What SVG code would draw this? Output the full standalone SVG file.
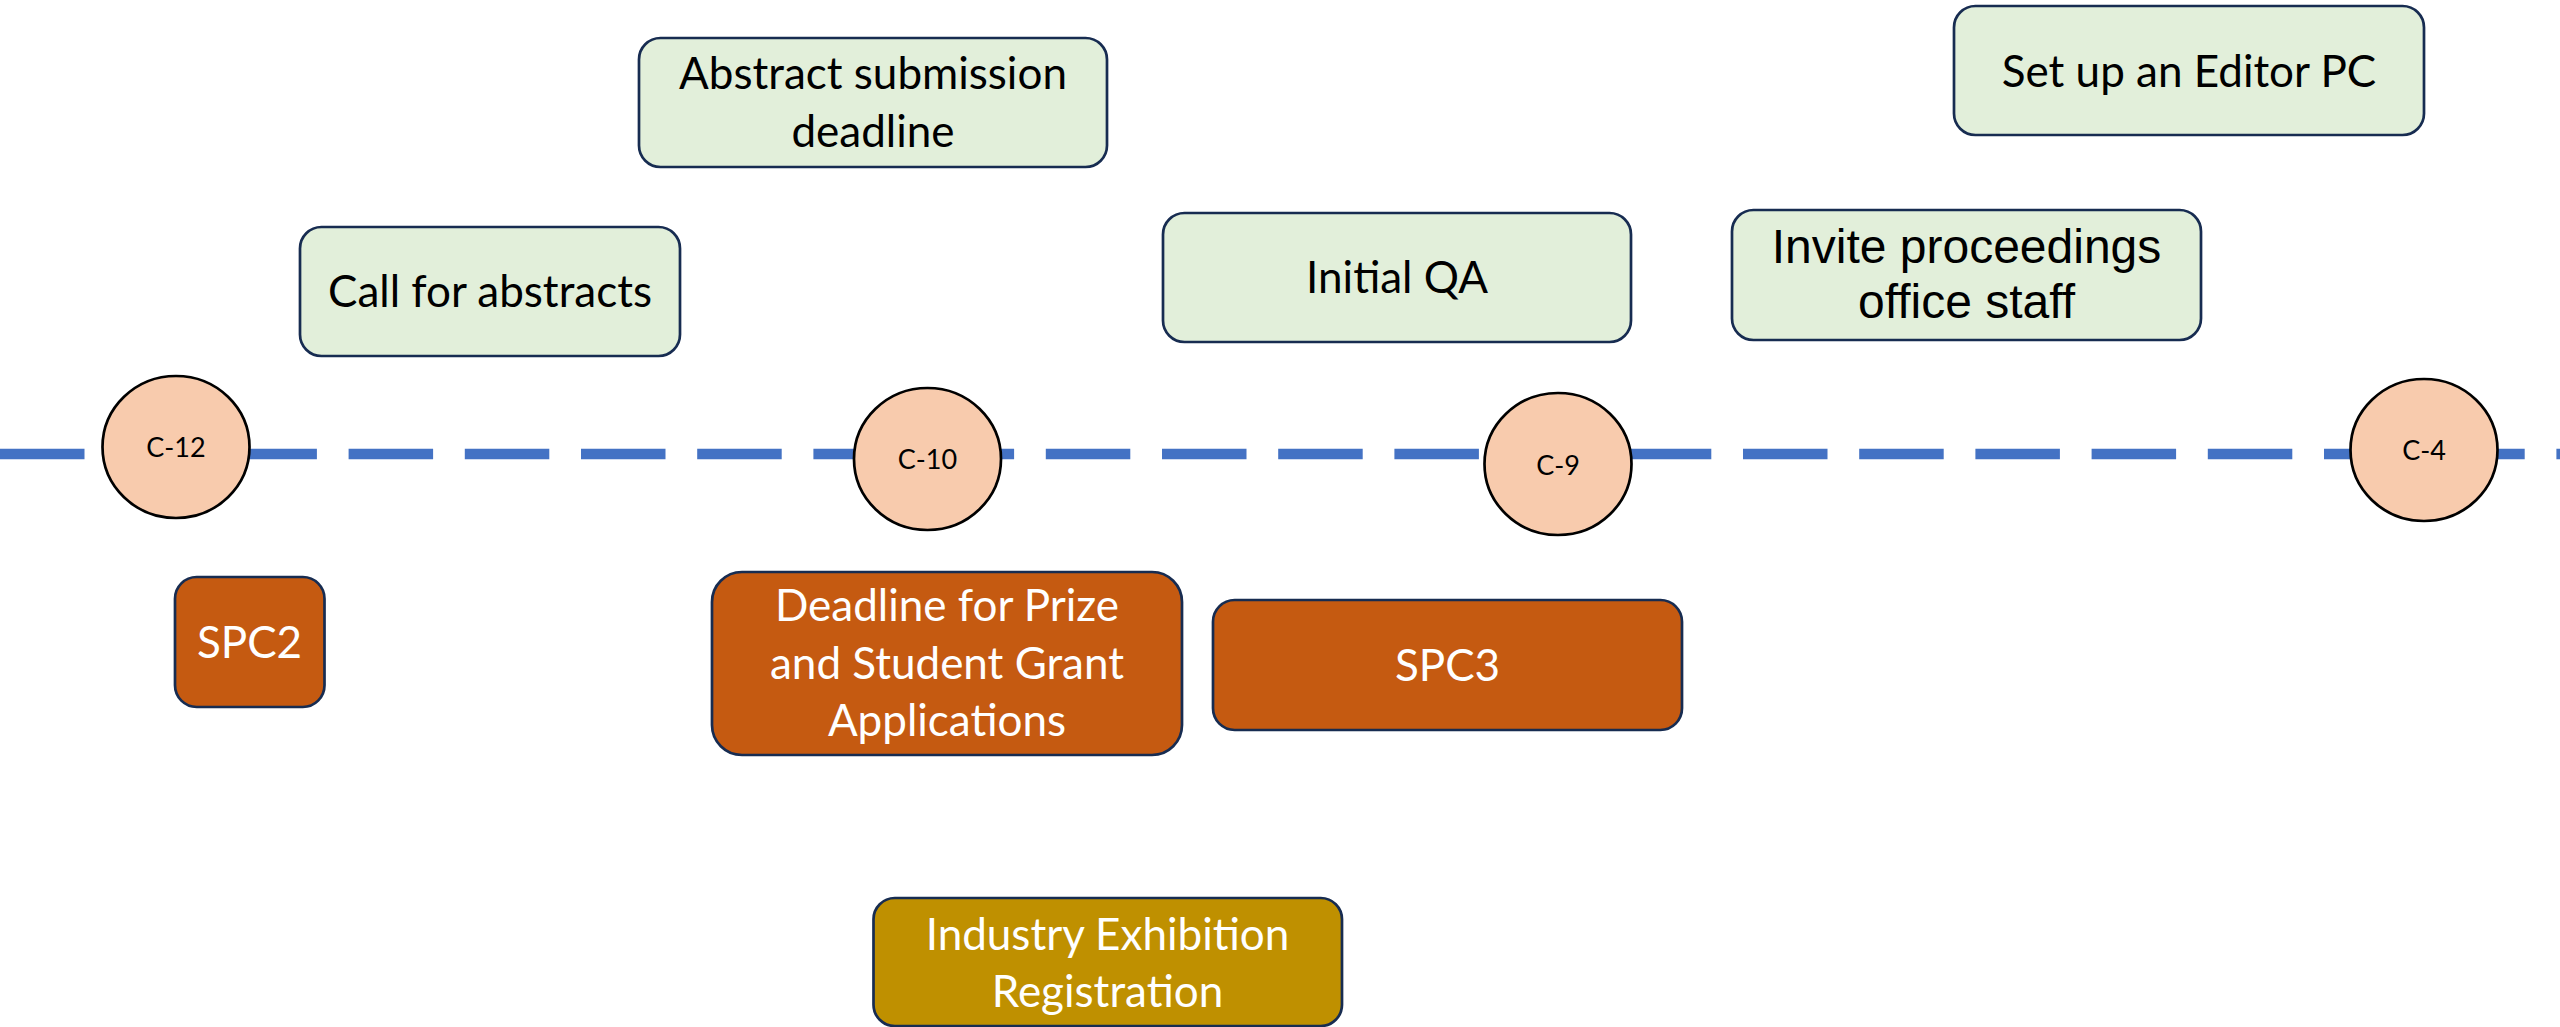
<svg xmlns="http://www.w3.org/2000/svg" width="2560" height="1027" viewBox="0 0 2560 1027">
<style>
.box{stroke:#172C51;stroke-width:2.7}
.g{fill:#E2EFDA}
.o{fill:#C55A11}
.y{fill:#BF9000}
.c{fill:#F8CBAD;stroke:#000;stroke-width:2.7}
.t{font-family:Lato,"Liberation Sans",sans-serif;font-size:44px;text-anchor:middle;fill:#000}
.a{font-family:"Liberation Sans",Arial,sans-serif;font-size:48px;text-anchor:middle;fill:#000}
.w{fill:#fff}
.s{font-family:Lato,"Liberation Sans",sans-serif;font-size:27px;text-anchor:middle;fill:#000}
</style>
<rect width="2560" height="1027" fill="#fff"/>
<g id="connectors">
<line x1="0" y1="454" x2="2560" y2="454" stroke="#4472C4" stroke-width="10.5" stroke-dasharray="84.5 31.7"/>
</g>
<g id="c12"><ellipse class="c" cx="176" cy="447" rx="73.5" ry="71"/><text class="s" x="176" y="457">C-12</text></g>
<g id="c10"><ellipse class="c" cx="927.5" cy="459" rx="73.5" ry="71"/><text class="s" x="927.5" y="469">C-10</text></g>
<g id="c9"><ellipse class="c" cx="1558" cy="464" rx="73.5" ry="71"/><text class="s" x="1558" y="475">C-9</text></g>
<g id="c4"><ellipse class="c" cx="2424" cy="450" rx="73.5" ry="71"/><text class="s" x="2424" y="460">C-4</text></g>
<g id="abstract-deadline"><rect class="box g" x="639" y="38" width="468" height="129" rx="21.5"/><text class="t" x="873" y="89">Abstract submission</text><text class="t" x="873" y="147">deadline</text></g>
<g id="call-abstracts"><rect class="box g" x="300" y="227" width="380" height="129" rx="21.5"/><text class="t" x="490" y="307">Call for abstracts</text></g>
<g id="initial-qa"><rect class="box g" x="1163" y="213" width="468" height="129" rx="21.5"/><text class="t" x="1397" y="293">Initial QA</text></g>
<g id="editor-pc"><rect class="box g" x="1954" y="6" width="470" height="129" rx="21.5"/><text class="t" x="2189" y="87">Set up an Editor PC</text></g>
<g id="invite-staff"><rect class="box g" x="1732" y="210" width="469" height="130" rx="21.5"/><text class="a" x="1966.5" y="263">Invite proceedings</text><text class="a" x="1966.5" y="318">office staff</text></g>
<g id="spc2"><rect class="box o" x="175" y="577" width="149.5" height="130" rx="21.7"/><text class="t w" x="249.5" y="658">SPC2</text></g>
<g id="prize-deadline"><rect class="box o" x="712" y="572" width="470" height="183" rx="30"/><text class="t w" x="947" y="621">Deadline for Prize</text><text class="t w" x="947" y="679">and Student Grant</text><text class="t w" x="947" y="736">Applications</text></g>
<g id="spc3"><rect class="box o" x="1213" y="600" width="469" height="130" rx="21.7"/><text class="t w" x="1447.5" y="681">SPC3</text></g>
<g id="industry-registration"><rect class="box y" x="873.5" y="898" width="468.5" height="128" rx="21.3"/><text class="t w" x="1107.5" y="950">Industry Exhibition</text><text class="t w" x="1107.5" y="1007">Registration</text></g>
</svg>
